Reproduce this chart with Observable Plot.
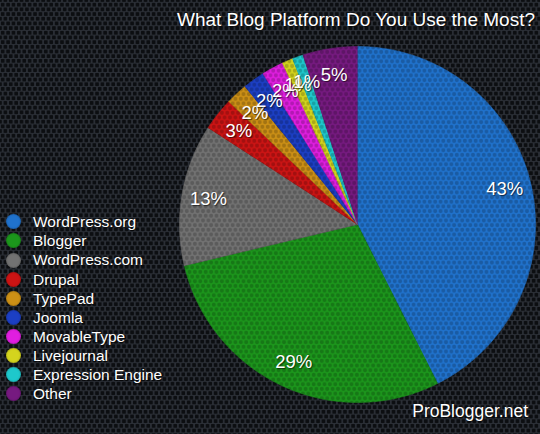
<!DOCTYPE html>
<html>
<head>
<meta charset="utf-8">
<script src="https://cdn.jsdelivr.net/npm/d3@7"></script>
<script src="https://cdn.jsdelivr.net/npm/@observablehq/plot@0.6"></script>
<style>
html, body { margin: 0; padding: 0; background: #1b1e22; }
#wrap {
  position: relative; width: 540px; height: 434px; overflow: hidden;
  font-family: "Liberation Sans", Arial, Helvetica, sans-serif; color: #fff;
  background-color: #2a2e35;
  background-image:
    radial-gradient(circle at center, #0c0e11 1.9px, transparent 2.3px),
    radial-gradient(circle at center, #0c0e11 1.9px, transparent 2.3px);
  background-size: 5.4px 9.36px, 5.4px 9.36px;
  background-position: 0 0, 2.7px 4.68px;
}
#chart { position: absolute; left: 0; top: 0; }
#title { position: absolute; right: 5px; top: 10.2px; font-size: 19px; line-height: 1; white-space: nowrap; }
#caption { position: absolute; right: 12px; top: 402.5px; font-size: 17.5px; line-height: 1; white-space: nowrap; }
#legend { position: absolute; left: 6px; top: 212.3px; font-size: 15.5px; line-height: 19.1px; }
#legend .row { display: flex; align-items: center; white-space: nowrap; }
#legend .sw { width: 15px; height: 15px; border-radius: 50%; margin-right: 12px; box-shadow: inset 0 0 2px rgba(0,0,0,.4); }
.txt { text-shadow: 1px 1px 1px rgba(0,0,0,.6); }
</style>
</head>
<body>
<div id="wrap">
  <div id="chart"></div>
  <div id="title" class="txt">What Blog Platform Do You Use the Most?</div>
  <div id="legend" class="txt"></div>
  <div id="caption" class="txt">ProBlogger.net</div>
</div>
<script>
// ---- data ----
const categories = ["WordPress.org", "Blogger", "WordPress.com", "Drupal", "TypePad", "Joomla", "MovableType", "Livejournal", "Expression Engine", "Other"];
const values = [43, 29, 13, 3, 2, 2, 2, 1, 1, 5];
const labels = ["43%", "29%", "13%", "3%", "2%", "2%", "2%", "1%", "1%", "5%"];
const colors = ["#2072cc", "#1c961c", "#727272", "#cc1414", "#cc9016", "#1c3fc4", "#e01ee0", "#d4d41e", "#1ec8cc", "#761a80"];

// ---- layout ----
const W = 540, H = 434, cx = 357, cy = 224, R = 178;

const table = categories.map((name, i) => ({name, value: values[i], label: labels[i]}));
const arcs = d3.pie().sort(null).value(d => d.value)(table);

// wedge outlines (unit radius, clockwise from 12 o'clock, y downward)
const wedgePts = [];
arcs.forEach(a => {
  const n = Math.max(2, Math.ceil((a.endAngle - a.startAngle) / 0.01));
  wedgePts.push({name: a.data.name, x: 0, y: 0});
  for (let k = 0; k <= n; k++) {
    const t = a.startAngle + (a.endAngle - a.startAngle) * k / n;
    wedgePts.push({name: a.data.name, x: Math.sin(t), y: -Math.cos(t)});
  }
});
const labelPts = arcs.map(a => {
  const m = (a.startAngle + a.endAngle) / 2;
  return {name: a.data.name, label: a.data.label, x: 0.85 * Math.sin(m), y: -0.85 * Math.cos(m)};
});

const plot = Plot.plot({
  width: W, height: H,
  margin: 0,
  style: {background: "transparent", color: "#fff"},
  x: {domain: [-cx / R, (W - cx) / R], range: [0, W], axis: null},
  y: {domain: [-cy / R, (H - cy) / R], range: [0, H], axis: null},
  color: {domain: categories, range: colors},
  marks: [
    Plot.line(wedgePts, {x: "x", y: "y", z: "name", fill: "name", stroke: "name", strokeWidth: 0.5, curve: "linear"}),
    Plot.text(labelPts, {x: "x", y: "y", text: "label", fill: "#fff", fontSize: 18.5, fontFamily: "Liberation Sans, Arial, sans-serif", className: "pct"})
  ]
});
document.getElementById("chart").appendChild(plot);

// honeycomb texture over the slices
const svg = d3.select(plot);
const defs = svg.insert("defs", ":first-child");
const pat = defs.append("pattern").attr("id", "hexpie").attr("patternUnits", "userSpaceOnUse")
  .attr("width", 5.4).attr("height", 9.36);
[[0,0],[5.4,0],[2.7,4.68],[0,9.36],[5.4,9.36]].forEach(([px, py]) =>
  pat.append("circle").attr("cx", px).attr("cy", py).attr("r", 2).attr("fill", "#000").attr("fill-opacity", 0.2));
const lineG = svg.select("g[aria-label='line']").node();
const clone = lineG.cloneNode(true);
d3.select(clone).selectAll("path").attr("fill", "url(#hexpie)").attr("stroke", "none");
lineG.parentNode.insertBefore(clone, lineG.nextSibling);
svg.selectAll(".pct text, g[aria-label='text'] text").style("text-shadow", "1px 1px 1px rgba(0,0,0,.6)");

// legend
const legend = d3.select("#legend");
categories.forEach((c, i) => {
  const row = legend.append("div").attr("class", "row");
  row.append("div").attr("class", "sw").style("background", colors[i]);
  row.append("span").text(c);
});
</script>
</body>
</html>
